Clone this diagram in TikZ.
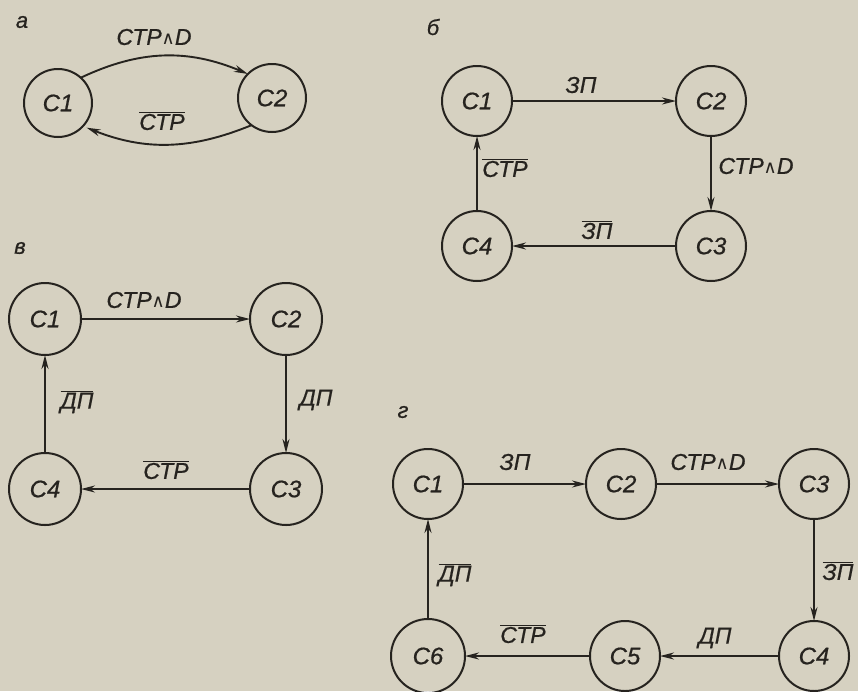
\documentclass[tikz,border=0pt]{standalone}
\usepackage{fontspec}
\setmainfont{Liberation Sans}[ItalicFeatures={FakeBold=0.6}]
\newfontfamily\symfont{DejaVu Sans}
\usetikzlibrary{arrows.meta}
\definecolor{ink}{RGB}{38,35,31}
\definecolor{paper}{RGB}{214,209,193}
\tikzset{
  state/.style={circle, draw=ink, line width=2pt, minimum size=70pt,
    font=\fontsize{24}{24}\selectfont\itshape, text=ink},
  lbl/.style={font=\fontsize{23}{23}\selectfont\itshape, text=ink},
  tag/.style={font=\fontsize{22}{22}\selectfont\itshape, text=ink},
  go/.style={draw=ink, line width=1.9pt, -{Stealth[length=14pt,width=7pt]}}
}
\newcommand\inv[1]{$\overline{\mbox{#1}}$}
\newcommand\und{{\symfont\fontsize{18}{18}\selectfont ∧}}
\begin{document}
\begin{tikzpicture}[y=1pt, x=1pt, yscale=-1, inner sep=0pt, outer sep=0pt]
\useasboundingbox[fill=paper] (0,0) rectangle (858,691);

\node[tag] (ta) at (22,22) {а};
\node[state, minimum size=68pt] (a1) at (58,103) {С1};
\node[state, minimum size=68pt] (a2) at (272,98) {С2};
\draw[go] (a1.48) to[bend right=24] (a2.135);
\draw[go, shorten >=4pt] (a2.233) to[bend right=22] (a1.-43);
\node[lbl] (la1) at (154,37) {СТР\und D};
\node[lbl] (la2) at (162,121) {\inv{СТР}};

\node[tag] (tb) at (433,27) {б};
\node[state] (b1) at (477,101) {С1};
\node[state] (b2) at (711,101) {С2};
\node[state] (b3) at (711,246) {С3};
\node[state] (b4) at (477,246) {С4};
\draw[go] (b1) -- (b2);
\draw[go] (b2) -- (b3);
\draw[go] (b3) -- (b4);
\draw[go] (b4) -- (b1);
\node[lbl] (lb1) at (581,85) {ЗП};
\node[lbl] (lb2) at (756,166) {СТР\und D};
\node[lbl] (lb3) at (505,168) {\inv{СТР}};
\node[lbl] (lb4) at (597,230) {\inv{ЗП}};

\node[tag] (tv) at (20,248) {в};
\node[state, minimum size=72pt] (v1) at (45,319) {С1};
\node[state, minimum size=72pt] (v2) at (286,319) {С2};
\node[state, minimum size=72pt] (v3) at (286,489) {С3};
\node[state, minimum size=72pt] (v4) at (45,489) {С4};
\draw[go] (v1) -- (v2);
\draw[go] (v2) -- (v3);
\draw[go] (v3) -- (v4);
\draw[go] (v4) -- (v1);
\node[lbl] (lv1) at (144,300) {СТР\und D};
\node[lbl] (lv2) at (316,400) {ДП};
\node[lbl] (lv3) at (77,402) {\inv{ДП}};
\node[lbl] (lv4) at (166,470) {\inv{СТР}};

\node[tag] (tg) at (403,412) {г};
\node[state] (g1) at (428,484) {С1};
\node[state] (g2) at (621,484) {С2};
\node[state] (g3) at (814,484) {С3};
\node[state] (g4) at (814,656) {С4};
\node[state] (g5) at (625,656) {С5};
\node[state, minimum size=74pt] (g6) at (428,656) {С6};
\draw[go] (g1) -- (g2);
\draw[go] (g2) -- (g3);
\draw[go] (g3) -- (g4);
\draw[go] (g4) -- (g5);
\draw[go] (g5) -- (g6);
\draw[go] (g6) -- (g1);
\node[lbl] (lg1) at (515,462) {ЗП};
\node[lbl] (lg2) at (708,462) {СТР\und D};
\node[lbl] (lg3) at (838,571) {\inv{ЗП}};
\node[lbl] (lg4) at (455,575) {\inv{ДП}};
\node[lbl] (lg5) at (523,634) {\inv{СТР}};
\node[lbl] (lg6) at (715,638) {ДП};
\end{tikzpicture}
\end{document}
